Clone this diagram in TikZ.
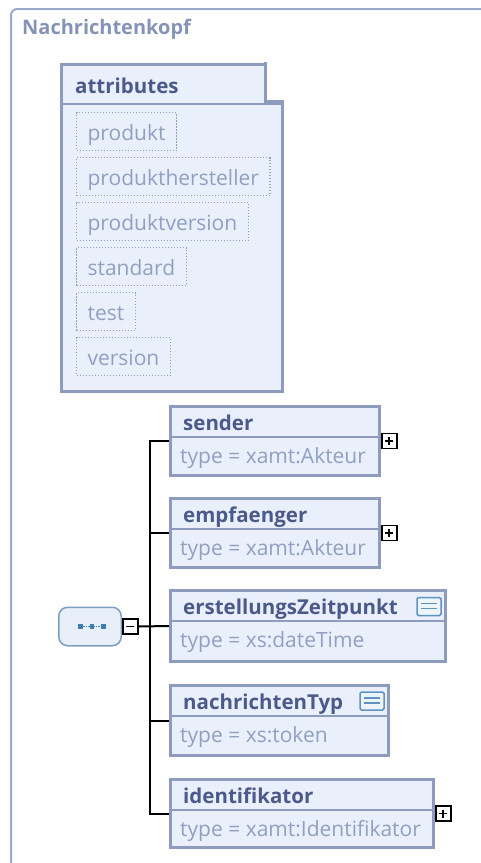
\documentclass[tikz,border=0pt]{standalone}
\usepackage{fontspec}
\setmainfont{Open Sans}
\usetikzlibrary{positioning,calc}
\definecolor{bx}{HTML}{8C9BBE}
\definecolor{bxfill}{HTML}{EAF0FB}
\definecolor{ttlc}{HTML}{4B5A8A}
\definecolor{typc}{HTML}{909FC2}
\definecolor{frm}{HTML}{9AAACF}
\definecolor{frmtxt}{HTML}{8593B7}
\definecolor{seqc}{HTML}{7E9EC2}
\definecolor{seqfill}{HTML}{E8EFF8}
\definecolor{icon}{HTML}{3F7DB3}
\definecolor{docc}{HTML}{5E93C6}
\definecolor{docfill}{HTML}{EEF4FB}

\begin{document}
\begin{tikzpicture}[x=1pt,y=-1pt,
    frame/.style={draw=frm,line width=2pt,rounded corners=6pt},
    box/.style={draw=bx,fill=bxfill,line width=3pt,anchor=north west,inner sep=0pt},
    ttl/.style={font=\bfseries\fontsize{20.5}{24}\selectfont,text=ttlc,anchor=base west,inner sep=0pt},
    typ/.style={font=\fontsize{21}{24}\selectfont,text=typc,anchor=base west,inner sep=0pt},
    attr/.style={draw=typc,line width=1.2pt,dash pattern=on 1.2pt off 1.8pt,anchor=north west,
      inner xsep=11pt,inner ysep=5pt,text height=23pt,text depth=5pt,
      font=\fontsize{21}{24}\selectfont,text=typc},
    sepline/.style={draw=bx,line width=1.5pt},
    conn/.style={draw=black,line width=2pt},
    pm/.style={draw=black,fill=white,line width=1.5pt,minimum size=15pt,inner sep=0pt},
    plus/.style={pm,path picture={\draw[line width=1.8pt]
      ([xshift=-4pt]path picture bounding box.center) -- ([xshift=4pt]path picture bounding box.center)
      ([yshift=-4pt]path picture bounding box.center) -- ([yshift=4pt]path picture bounding box.center);}},
    minus/.style={pm,path picture={\draw[line width=1.8pt]
      ([xshift=-4pt]path picture bounding box.center) -- ([xshift=4pt]path picture bounding box.center);}},
    doc/.style={draw=docc,fill=docfill,line width=1.5pt,rounded corners=1.5pt,minimum width=24pt,
      minimum height=18pt,inner sep=0pt,path picture={\draw[docc,line width=1.5pt]
      ([shift={(-8,-3)}]path picture bounding box.center) -- ++(16,0)
      ([shift={(-8,2)}]path picture bounding box.center) -- ++(16,0);}},
    seqbox/.style={draw=seqc,fill=seqfill,line width=1.5pt,rounded corners=9pt,
      minimum width=62.5pt,minimum height=38.5pt,inner sep=0pt}]
  \useasboundingbox (0,0) rectangle (480,863);

  % outer group
  \draw[frame] (11,880) -- (11,9) -- (495,9);
  \node[ttl,text=frmtxt,font=\bfseries\fontsize{20}{24}\selectfont] (head) at (22,34) {Nachrichtenkopf};

  % attributes
  \node[box,minimum width=221pt,minimum height=327pt] (attrs) at (60,63) {};
  \fill[white] (263.5,61) rectangle (286,100);
  \draw[bx,line width=3pt] (265,61.5) -- (265,101.5) -- (284,101.5);
  \draw[sepline] (61.5,104) -- (281,104);
  \node[ttl] (attrs-t) at (75,93) {attributes};
  \foreach \a [count=\i] in {produkt,produkthersteller,produktversion,standard,test,version}
    \node[attr] (attr\i) at (76,67+45*\i) {\a};

  % elements
  \foreach \n/\ty/\w/\h/\typ in {sender/405/209/69/xamt:Akteur,
      empfaenger/497/209/69/xamt:Akteur,
      erstellungsZeitpunkt/589/275/71/xs:dateTime,
      nachrichtenTyp/684/218/70/xs:token,
      identifikator/778/263/68/xamt:Identifikator}{
    \node[box,minimum width=\w pt,minimum height=\h pt] (\n) at (169,\ty) {};
    \draw[sepline] ($(\n.north west)+(1.5,32)$) -- ($(\n.north east)+(-1.5,32)$);
    \node[ttl] (\n-t) at ($(\n.north west)+(14,25)$) {\n};
    \node[typ] (\n-y) at ($(\n.north west)+(11,58.5)$) {type = \typ};
  }
  \node[doc] (erstellungsZeitpunkt-d) at ($(erstellungsZeitpunkt.north east)+(-18,17.5)$) {};
  \node[doc] (nachrichtenTyp-d) at ($(nachrichtenTyp.north east)+(-18,17)$) {};
  \foreach \n in {sender,empfaenger,identifikator}
    \node[plus,right=0pt of \n.east] (\n-p) {};

  % sequence
  \node[seqbox] (seq) at (90,626.5) {};
  \draw[icon,line width=1pt,dash pattern=on 1.5pt off 1pt] ($(seq.center)+(-9.5,0)$) -- ($(seq.center)+(13.5,0)$);
  \foreach \dx in {-9.5,2,13.5}
    \fill[icon] ($(seq.center)+(\dx,0)+(-2.2,-2.2)$) rectangle ($(seq.center)+(\dx,0)+(2.2,2.2)$);
  \node[minus,right=0pt of seq] (seq-m) {};

  % connectors
  \coordinate (spine) at (150,0);
  \draw[conn] (seq-m.east) -- (erstellungsZeitpunkt.west);
  \draw[conn] (sender.west) -- (spine |- sender.west) -- (spine |- identifikator.west) -- (identifikator.west);
  \foreach \n in {empfaenger,nachrichtenTyp}
    \draw[conn] (spine |- \n.west) -- (\n.west);
\end{tikzpicture}
\end{document}
